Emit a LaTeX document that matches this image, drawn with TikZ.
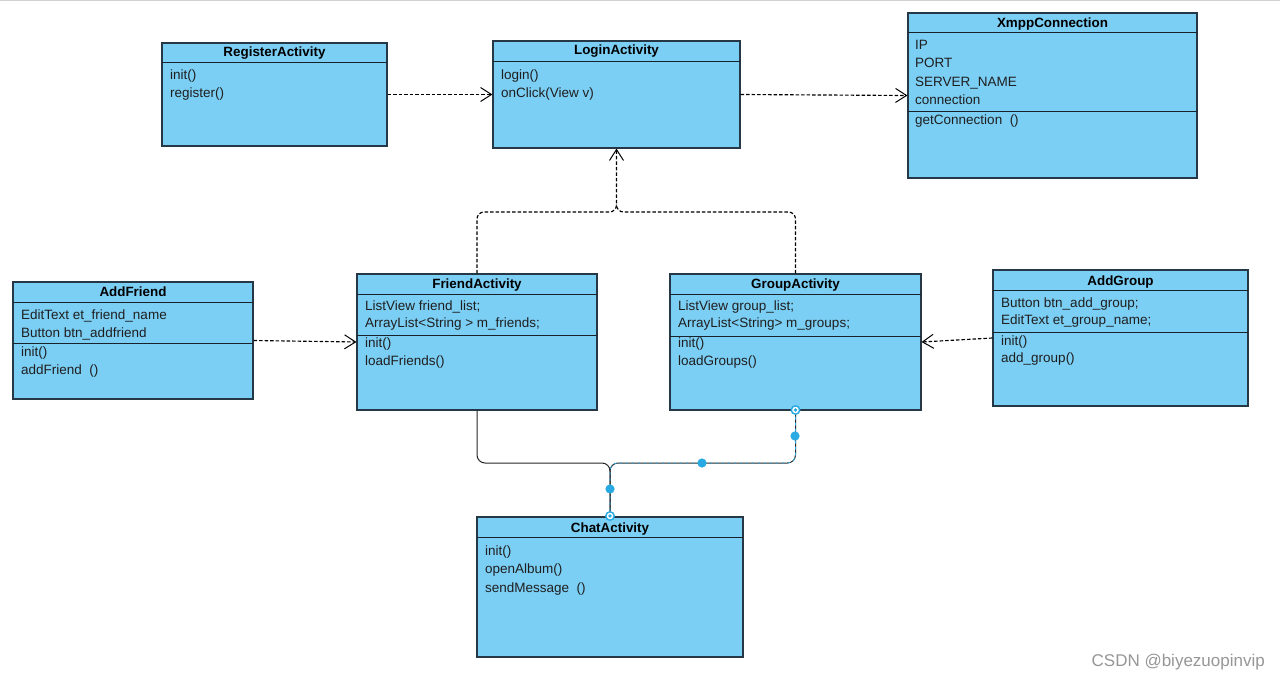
\documentclass[tikz,border=0pt]{standalone}
\usepackage{fontspec}
\setmainfont{Liberation Sans}
\usetikzlibrary{arrows.meta,fit,calc}
\definecolor{boxfill}{RGB}{123,206,244}
\definecolor{boxline}{RGB}{38,56,70}
\definecolor{sel}{RGB}{41,170,226}
\definecolor{wm}{RGB}{150,150,150}
\begin{document}
\begin{tikzpicture}[x=1pt,y=-1pt,
 cls/.style={draw=boxline, fill=boxfill, line width=1.1pt, inner sep=0pt},
 sepline/.style={draw=boxline!60!black, line width=1pt},
 ttl/.style={font=\bfseries\fontsize{13.4}{16}\selectfont, text=black, inner sep=0pt, anchor=base},
 mem/.style={font=\fontsize{13.5}{16}\selectfont, text=black!88, inner sep=0pt, anchor=base west},
 dep/.style={black, line width=1.15pt, dash pattern=on 3.5pt off 2pt, rounded corners=7pt, -{Straight Barb[length=11pt,width=14pt,line width=1pt]}},
 depplain/.style={black, line width=1.15pt, dash pattern=on 3.5pt off 2pt, rounded corners=7pt},
 assoc/.style={draw=black!85, line width=1pt, rounded corners=8pt},
 selline/.style={draw=sel, line width=0.8pt, dash pattern=on 3pt off 3pt, rounded corners=8pt},
 wmark/.style={font=\fontsize{17}{20}\selectfont, text=wm, anchor=base east, inner sep=0pt}
]
\useasboundingbox (0,0) rectangle (1280,677);
\draw[black!18, line width=1.5pt] (0,0.75) -- (1280,0.75);

% RegisterActivity
\node[cls, fit={(162,43)(387,146)}] (reg) {};
\draw[sepline] (162,63) -- (387,63);
\node[ttl] (regT) at (274.5,57) {RegisterActivity};
\node[mem] (reg1) at (170,80) {init()};
\node[mem] (reg2) at (170,98) {register()};

% LoginActivity
\node[cls, fit={(493,41)(740,148)}] (li) {};
\draw[sepline] (493,62) -- (740,62);
\node[ttl] (liT) at (616.5,55) {LoginActivity};
\node[mem] (li1) at (501,79) {login()};
\node[mem] (li2) at (501,97) {onClick(View v)};

% XmppConnection
\node[cls, fit={(908,13)(1197,178)}] (xm) {};
\draw[sepline] (908,33) -- (1197,33);
\draw[sepline] (908,111) -- (1197,111);
\node[ttl] (xmT) at (1052.5,28) {XmppConnection};
\node[mem] (xm1) at (915,50) {IP};
\node[mem] (xm2) at (915,68) {PORT};
\node[mem] (xm3) at (915,86) {SERVER\_NAME};
\node[mem] (xm4) at (915,104) {connection};
\node[mem] (xm5) at (915,124) {getConnection\ \ ()};

% AddFriend
\node[cls, fit={(13,282)(253,399)}] (af) {};
\draw[sepline] (13,302) -- (253,302);
\draw[sepline] (13,343) -- (253,343);
\node[ttl] (afT) at (133,296) {AddFriend};
\node[mem] (af1) at (21,319) {EditText et\_friend\_name};
\node[mem] (af2) at (21,337) {Button btn\_addfriend};
\node[mem] (af3) at (21,356) {init()};
\node[mem] (af4) at (21,374) {addFriend\ \ ()};

% FriendActivity
\node[cls, fit={(357,274)(597,410)}] (fr) {};
\draw[sepline] (357,294) -- (597,294);
\draw[sepline] (357,335) -- (597,335);
\node[ttl] (frT) at (477,288) {FriendActivity};
\node[mem] (fr1) at (365,310) {ListView friend\_list;};
\node[mem] (fr2) at (365,327) {ArrayList<String > m\_friends;};
\node[mem] (fr3) at (365,347) {init()};
\node[mem] (fr4) at (365,365) {loadFriends()};

% GroupActivity
\node[cls, fit={(670,274)(921,410)}] (gr) {};
\draw[sepline] (670,294) -- (921,294);
\draw[sepline] (670,336) -- (921,336);
\node[ttl] (grT) at (795.5,288) {GroupActivity};
\node[mem] (gr1) at (678,310) {ListView group\_list;};
\node[mem] (gr2) at (678,327) {ArrayList<String> m\_groups;};
\node[mem] (gr3) at (678,347) {init()};
\node[mem] (gr4) at (678,365) {loadGroups()};

% AddGroup
\node[cls, fit={(993,270)(1248,406)}] (ag) {};
\draw[sepline] (993,290) -- (1248,290);
\draw[sepline] (993,332) -- (1248,332);
\node[ttl] (agT) at (1120.5,285) {AddGroup};
\node[mem] (ag1) at (1001,307) {Button btn\_add\_group;};
\node[mem] (ag2) at (1001,324) {EditText et\_group\_name;};
\node[mem] (ag3) at (1001,345) {init()};
\node[mem] (ag4) at (1001,362) {add\_group()};

% ChatActivity
\node[cls, fit={(477,517)(743,657)}] (ch) {};
\draw[sepline] (477,537) -- (743,537);
\node[ttl] (chT) at (610,532) {ChatActivity};
\node[mem] (ch1) at (485,555) {init()};
\node[mem] (ch2) at (485,573) {openAlbum()};
\node[mem] (ch3) at (485,592) {sendMessage\ \ ()};

% dependencies
\draw[dep] (reg.east) -- (li.west);
\draw[dep] (li.east) -- (xm.west);
\coordinate (jn) at (616.5,212);
\draw[dep] (fr.north) |- (jn) -- (li.south);
\draw[depplain] (gr.north) |- (jn) -- ++(0,-8);
\draw[dep] (af.east) -- (fr.west);
\draw[dep] (ag.west) -- (gr.east);

% associations to ChatActivity
\coordinate (cj) at (610,463);
\draw[assoc] (fr.south) |- (cj) -- (ch.north);
\draw[assoc] (gr.south) |- (cj) -- (ch.north);
\draw[selline] (gr.south) |- (cj) -- (ch.north);

% selection handles
\fill[sel] (795,436) circle (4.6pt);
\fill[sel] (702,463) circle (4.6pt);
\fill[sel] (610,489) circle (4.6pt);
\fill[sel] (795.5,410) circle (5pt);
\fill[white] (795.5,410) circle (3.3pt);
\fill[sel] (795.5,410) circle (1.8pt);
\fill[sel] (610,516) circle (5pt);
\fill[white] (610,516) circle (3.3pt);
\fill[sel] (610,516) circle (1.8pt);

\node[wmark] (wmk) at (1265,666) {CSDN @biyezuopinvip};
\end{tikzpicture}
\end{document}
